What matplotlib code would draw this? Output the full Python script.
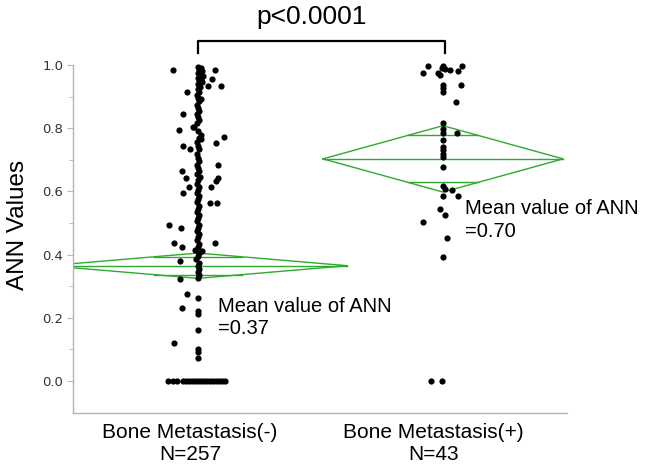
import matplotlib
matplotlib.use("Agg")
import matplotlib.pyplot as plt
import numpy as np

# ---- data
groups = ["Bone Metastasis(-)", "Bone Metastasis(+)"]
group_n = ["N=257", "N=43"]
mean_text = ["=0.37", "=0.70"]
means = [0.365, 0.703]
ci_half = [0.04, 0.105]
diamond_hw = [0.61, 0.49]

# Bone Metastasis(-): values with their horizontal jitter
neg_zero_jit = [-0.121, -0.103, -0.087, -0.061, -0.049, -0.037, -0.024,
                -0.012, 0.0, 0.012, 0.024, 0.037, 0.049, 0.061, 0.073, 0.086,
                0.098, 0.110]
neg_col = [
    0.995, 0.99, 0.985, 0.98, 0.975, 0.97, 0.965, 0.96, 0.955, 0.95, 0.945,
    0.94, 0.93, 0.925, 0.915, 0.905, 0.895, 0.885, 0.875, 0.865, 0.855, 0.845,
    0.835, 0.825, 0.815, 0.805, 0.79, 0.78, 0.77, 0.755, 0.745, 0.735, 0.72,
    0.705, 0.695, 0.685, 0.675, 0.665, 0.655, 0.645, 0.635, 0.625, 0.615,
    0.605, 0.595, 0.585, 0.575, 0.565, 0.555, 0.545, 0.535, 0.525, 0.515,
    0.505, 0.495, 0.485, 0.475, 0.465, 0.455, 0.445, 0.435, 0.425, 0.415,
    0.405, 0.395, 0.385, 0.375, 0.365, 0.355, 0.345, 0.335, 0.325,
]
neg_col_jit = [
    0.0, 0.012, 0.004, 0.016, 0.0, 0.008, 0.02, 0.0, 0.012, 0.004, 0.016,
    0.0, 0.008, 0.0, 0.004, -0.004, 0.0, 0.004, -0.004, 0.0, 0.004, -0.004,
    0.0, 0.004, -0.004, -0.016, 0.0, 0.012, 0.004, -0.004, 0.0, 0.004, -0.004,
    0.0, 0.004, -0.004, 0.0, 0.004, -0.004, 0.008, 0.0, -0.004, 0.004,
    0.0, -0.004, 0.004, 0.0, -0.004, 0.004, 0.0, -0.004, 0.004, 0.0,
    -0.004, 0.004, 0.0, -0.004, 0.004, 0.0, -0.004, 0.004, 0.0, -0.012,
    0.004, 0.0, -0.008, 0.004, 0.0, 0.004, 0.0, 0.004, 0.0,
]
neg_tail = [0.274, 0.262, 0.232, 0.222, 0.212, 0.161, 0.121, 0.103, 0.093,
            0.072]
neg_tail_jit = [-0.046, 0.0, -0.067, 0.0, 0.0, 0.0, -0.098, 0.0, 0.0, 0.0]
neg_scatter = [
    0.984, 0.984, 0.955, 0.934, 0.934, 0.913, 0.892, 0.845, 0.794, 0.805,
    0.765, 0.773, 0.754, 0.744, 0.733, 0.684, 0.666, 0.641, 0.641, 0.633,
    0.615, 0.615, 0.594, 0.564, 0.564, 0.494, 0.483, 0.436, 0.425, 0.436,
    0.412, 0.381, 0.322,
]
neg_scatter_jit = [
    -0.103, 0.069, 0.056, 0.04, 0.094, -0.046, 0.012, -0.06, -0.076, -0.02,
    0.012, 0.107, 0.073, -0.062, -0.033, 0.08, -0.067, -0.049, 0.083, 0.073,
    -0.035, 0.053, -0.06, 0.049, 0.076, -0.117, -0.069, -0.097, -0.064,
    0.069, 0.015, -0.073, -0.073,
]

# Bone Metastasis(+)
ann_pos = [
    0.976, 0.997, 0.997, 0.968, 0.987, 0.984, 0.982, 0.997, 0.99, 0.975,
    0.937, 0.926, 0.916, 0.937, 0.884, 0.817, 0.796, 0.786, 0.784,
    0.763, 0.741, 0.731, 0.718, 0.71, 0.676, 0.617, 0.609, 0.604,
    0.585, 0.585, 0.543, 0.525, 0.504, 0.452, 0.393, 0.0, 0.0,
]
jit_pos = [
    -0.083, -0.06, 0.0, -0.012, 0.008, 0.028, 0.062, 0.076, -0.004, -0.02,
    0.0, 0.0, 0.0, 0.073, 0.052, 0.0, 0.0, 0.0, 0.056,
    0.0, 0.0, 0.0, 0.0, 0.0, 0.0, 0.0, 0.008, 0.036,
    0.0, 0.06, -0.012, 0.008, -0.083, 0.016, 0.0, -0.049, -0.005,
]

ann_neg = [0.0] * len(neg_zero_jit) + neg_col + neg_tail + neg_scatter
jit_neg = neg_zero_jit + neg_col_jit + neg_tail_jit + neg_scatter_jit

GREEN = "#2eaa2e"
arial = "Liberation Sans"

fig = plt.figure(figsize=(6.45, 4.69), dpi=100)
ax = fig.add_axes([73 / 645, 56 / 469, (567 - 73) / 645, 348 / 469])

ax.scatter(np.array(jit_neg), ann_neg, s=20, color="black", lw=0, zorder=3,
           clip_on=False)
ax.scatter(1 + np.array(jit_pos), ann_pos, s=20, color="black", lw=0,
           zorder=3, clip_on=False)

# means diamonds with overlap marks
for i, (m, c, hw) in enumerate(zip(means, ci_half, diamond_hw)):
    ax.plot([i - hw, i, i + hw, i, i - hw], [m, m + c, m, m - c, m],
            color=GREEN, lw=1.0, zorder=2)
    ax.plot([i - hw, i + hw], [m, m], color=GREEN, lw=1.0, zorder=2)
    ov = c / np.sqrt(2)
    w = hw * (1 - 1 / np.sqrt(2))
    for s in (1, -1):
        ax.plot([i - w, i + w], [m + s * ov, m + s * ov], color=GREEN,
                lw=1.0, zorder=2)

ax.set_xlim(-0.51, 1.506)
ax.set_ylim(-0.101, 1.0)

ax.spines["top"].set_visible(False)
ax.spines["right"].set_visible(False)
for side in ("left", "bottom"):
    ax.spines[side].set_color("#b4b4b4")
    ax.spines[side].set_linewidth(1.0)
ax.set_xticks([])
ax.set_yticks([0.0, 0.2, 0.4, 0.6, 0.8, 1.0])
ax.set_yticks(np.arange(0.1, 1.0, 0.2), minor=True)
ax.set_yticklabels(["0.0", "0.2", "0.4", "0.6", "0.8", "1.0"])
ax.tick_params(axis="y", which="major", length=4, color="#b4b4b4",
               labelsize=9.5, labelcolor="#333333", pad=3)
ax.tick_params(axis="y", which="minor", length=3, color="#b4b4b4")
for lab in ax.get_yticklabels():
    lab.set_family("DejaVu Sans")

# significance bracket
ax.plot([0, 0, 1.01, 1.01], [1.038, 1.077, 1.077, 1.038], color="black",
        lw=1.6, clip_on=False)
ax.text(0.465, 1.152, "p<0.0001", ha="center", va="center", fontsize=19,
        family=arial, clip_on=False)

# mean annotations
ax.text(0.082, 0.201, "Mean value of ANN\n" + mean_text[0], ha="left",
        va="center", fontsize=14.5, family=arial, linespacing=1.25)
ax.text(1.09, 0.509, "Mean value of ANN\n" + mean_text[1], ha="left",
        va="center", fontsize=14.5, family=arial, linespacing=1.25,
        clip_on=False)

# group labels
for x, g, n in zip([-0.033, 0.96], groups, group_n):
    ax.text(x, -0.199, g + "\n" + n, ha="center", va="center", fontsize=15,
            family=arial, linespacing=1.2, clip_on=False)

fig.text(18 / 645, 1 - 225 / 469, "ANN Values", rotation=90, ha="center",
         va="center", fontsize=17.5, family=arial)

fig.savefig("out.png", dpi=100)
